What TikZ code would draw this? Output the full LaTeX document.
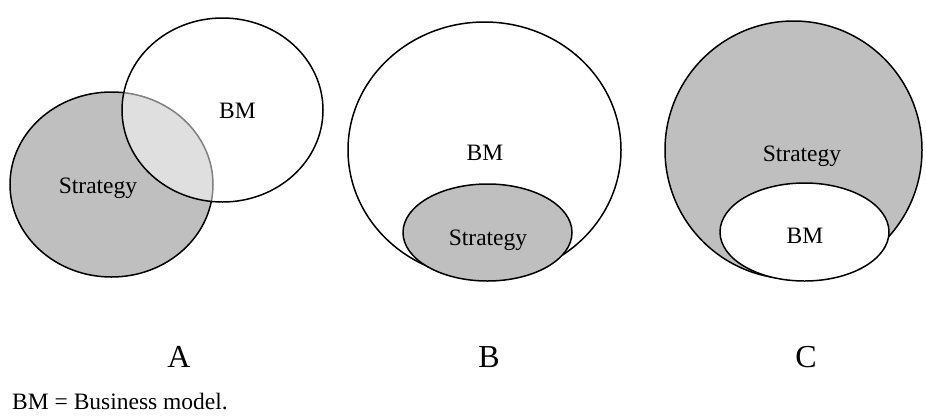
\documentclass[tikz,border=0pt]{standalone}
\usepackage{fontspec}
\setmainfont{Liberation Serif}
\usetikzlibrary{shapes.geometric}
\definecolor{shade}{RGB}{191,191,191}
\tikzset{
  blob/.style={ellipse, draw=black, line width=1.5pt, inner sep=0pt},
  lab/.style={font=\fontsize{23.5}{27}\selectfont, anchor=base, inner sep=0pt},
  foottext/.style={font=\fontsize{23.5}{27}\selectfont, anchor=base west, inner sep=0pt},
  letter/.style={font=\fontsize{32}{36}\selectfont, anchor=base, inner sep=0pt},
}
\begin{document}
\begin{tikzpicture}[x=1pt,y=-1pt]
\useasboundingbox (0,0) rectangle (926,416);
% A
\node[blob, fill=shade, minimum width=203pt, minimum height=185pt] (aS) at (111.5,184.5) {};
\node[blob, fill=white, fill opacity=0.5, minimum width=201pt, minimum height=184pt] (aB) at (222.5,110) {};
\node[lab] (aSt) at (98,193) {Strategy};
\node[lab] (aBt) at (237.5,118) {BM};
% B
\node[blob, fill=white, minimum width=273pt, minimum height=256pt] (bB) at (484.5,150) {};
\node[blob, fill=shade, minimum width=169pt, minimum height=97pt] (bS) at (487.5,232.5) {};
\node[lab] (bBt) at (485,160) {BM};
\node[lab] (bSt) at (488,245) {Strategy};
% C
\node[blob, fill=shade, minimum width=257pt, minimum height=258pt] (cS) at (793.5,150) {};
\node[blob, fill=white, minimum width=169pt, minimum height=98pt] (cB) at (804.5,232) {};
\node[lab] (cSt) at (802,161) {Strategy};
\node[lab] (cBt) at (805,243) {BM};
% letters
\node[letter] (la) at (179,367) {A};
\node[letter] (lb) at (489,367) {B};
\node[letter] (lc) at (806,367) {C};
% footnote
\node[foottext] (foot) at (12,409) {BM = Business model.};
\end{tikzpicture}
\end{document}
